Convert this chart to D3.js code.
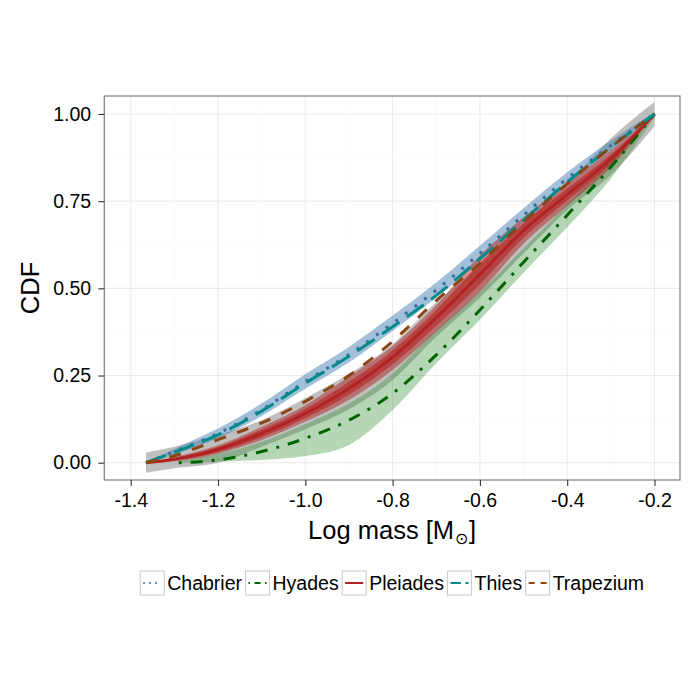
<!DOCTYPE html>
<html>
<head>
<meta charset="utf-8">
<script src="https://cdn.jsdelivr.net/npm/d3@7"></script>
<style>
    body { margin: 0; background: #ffffff; }
    text { font-family: 'Liberation Sans', Arial, sans-serif; }
</style>
</head>
<body>
<svg id="chart" width="700" height="700"></svg>
<script>
// log mass grid shared by most curves
var logM = [-1.365, -1.3, -1.2, -1.1, -1.0, -0.9, -0.8, -0.7, -0.6, -0.5, -0.4, -0.3, -0.2];
var hyadesLogM = [-1.29, -1.2, -1.1, -1.0, -0.9, -0.8, -0.7, -0.6, -0.5, -0.4, -0.3, -0.2];

var chabrierCdf = [0, 0.032, 0.084, 0.152, 0.233, 0.31, 0.4, 0.495, 0.6, 0.71, 0.815, 0.91, 1.0];
var chabrierLo = [0, 0.024, 0.07, 0.134, 0.212, 0.288, 0.378, 0.473, 0.578, 0.69, 0.797, 0.896, 0.995];
var chabrierHi = [0, 0.04, 0.098, 0.17, 0.254, 0.332, 0.422, 0.517, 0.622, 0.73, 0.833, 0.924, 1.005];

var thiesCdf = [0, 0.03, 0.08, 0.148, 0.228, 0.305, 0.39, 0.48, 0.585, 0.695, 0.805, 0.905, 1.0];
var trapeziumCdf = [0, 0.02, 0.066, 0.114, 0.176, 0.25, 0.348, 0.465, 0.572, 0.69, 0.8, 0.905, 1.0];

var pleiadesCdf = [0, 0.01, 0.038, 0.084, 0.141, 0.213, 0.303, 0.416, 0.54, 0.666, 0.769, 0.871, 1.0];
// spread of the resampled Pleiades curves (outer and dense core)
var pleiadesLo = [0, 0.004, 0.026, 0.065, 0.118, 0.18, 0.266, 0.376, 0.49, 0.628, 0.737, 0.847, 1.0];
var pleiadesHi = [0, 0.016, 0.05, 0.103, 0.165, 0.247, 0.335, 0.452, 0.594, 0.704, 0.8, 0.895, 1.0];
var pleiadesCoreLo = [0, 0.007, 0.031, 0.073, 0.128, 0.195, 0.282, 0.393, 0.512, 0.645, 0.752, 0.858, 1.0];
var pleiadesCoreHi = [0, 0.013, 0.045, 0.095, 0.155, 0.232, 0.322, 0.438, 0.572, 0.688, 0.786, 0.884, 1.0];
var pleiadesBandLo = [-0.029, -0.016, 0.0, 0.046, 0.096, 0.153, 0.237, 0.361, 0.474, 0.6, 0.725, 0.825, 0.965];
var pleiadesBandHi = [0.029, 0.046, 0.08, 0.122, 0.185, 0.255, 0.34, 0.46, 0.565, 0.685, 0.8, 0.93, 1.035];

var hyadesCdf = [0, 0.008, 0.032, 0.07, 0.122, 0.199, 0.309, 0.438, 0.575, 0.71, 0.848, 1.0];
var hyadesLo = [0, 0.003, 0.008, 0.019, 0.051, 0.151, 0.285, 0.41, 0.545, 0.675, 0.815, 0.99];
var hyadesHi = [0.005, 0.025, 0.06, 0.111, 0.17, 0.256, 0.38, 0.49, 0.615, 0.74, 0.865, 1.005];

var xTicks = [-1.4, -1.2, -1.0, -0.8, -0.6, -0.4, -0.2];
var yTicks = [0, 0.25, 0.5, 0.75, 1.0];
var legendNames = ['Chabrier', 'Hyades', 'Pleiades', 'Thies', 'Trapezium'];

var style = {
    Chabrier: { color: '#3f6c99', dash: [3, 9] },
    Hyades: { color: '#006400', dash: [3, 9, 12, 9] },
    Pleiades: { color: '#b22222', dash: null },
    Thies: { color: '#008b8b', dash: [21, 9] },
    Trapezium: { color: '#8b4513', dash: [12, 12] }
};

var panel = { left: 104.3, right: 680, top: 96, bottom: 480 };

var svg = d3.select('#chart');
var x = d3.scaleLinear().domain([-1.4605, -0.1416]).range([panel.left, panel.right]);
var y = d3.scaleLinear().domain([-0.0496, 1.0516]).range([panel.bottom, panel.top]);

function zip(xs, ys) {
    return xs.map(function (d, i) { return [d, ys[i]]; });
}
function zipBand(xs, lo, hi) {
    return xs.map(function (d, i) { return [d, lo[i], hi[i]]; });
}
function dashes(name, k) {
    return style[name].dash ? style[name].dash.map(function (v) { return v * k; }).join(',') : null;
}

var line = d3.line().x(function (d) { return x(d[0]); }).y(function (d) { return y(d[1]); }).curve(d3.curveMonotoneX);
var area = d3.area().x(function (d) { return x(d[0]); })
    .y0(function (d) { return y(d[1]); }).y1(function (d) { return y(d[2]); })
    .curve(d3.curveMonotoneX);

// grid
var grid = svg.append('g');
var minorX = xTicks.slice(0, -1).map(function (d) { return d + 0.1; });
var minorY = yTicks.slice(0, -1).map(function (d) { return d + 0.125; });
grid.selectAll('.mx').data(minorX).enter().append('line')
    .attr('x1', x).attr('x2', x).attr('y1', panel.top).attr('y2', panel.bottom)
    .attr('stroke', '#fafafa').attr('stroke-width', 1);
grid.selectAll('.my').data(minorY).enter().append('line')
    .attr('y1', y).attr('y2', y).attr('x1', panel.left).attr('x2', panel.right)
    .attr('stroke', '#fafafa').attr('stroke-width', 1);
grid.selectAll('.gx').data(xTicks).enter().append('line')
    .attr('x1', x).attr('x2', x).attr('y1', panel.top).attr('y2', panel.bottom)
    .attr('stroke', '#ebebeb').attr('stroke-width', 1.1);
grid.selectAll('.gy').data(yTicks).enter().append('line')
    .attr('y1', y).attr('y2', y).attr('x1', panel.left).attr('x2', panel.right)
    .attr('stroke', '#ebebeb').attr('stroke-width', 1.1);

// bands
var plot = svg.append('g');
plot.append('path').attr('d', area(zipBand(logM, pleiadesBandLo, pleiadesBandHi)))
    .attr('fill', '#808080').attr('fill-opacity', 0.5);
plot.append('path').attr('d', area(zipBand(hyadesLogM, hyadesLo, hyadesHi)))
    .attr('fill', '#2e8b2e').attr('fill-opacity', 0.35);
plot.append('path').attr('d', area(zipBand(logM, chabrierLo, chabrierHi)))
    .attr('fill', '#4682b4').attr('fill-opacity', 0.5);
plot.append('path').attr('d', area(zipBand(logM, pleiadesLo, pleiadesHi)))
    .attr('fill', '#b22222').attr('fill-opacity', 0.5);
plot.append('path').attr('d', area(zipBand(logM, pleiadesCoreLo, pleiadesCoreHi)))
    .attr('fill', '#b22222').attr('fill-opacity', 0.6);

// lines
var curves = {
    Chabrier: zip(logM, chabrierCdf),
    Hyades: zip(hyadesLogM, hyadesCdf),
    Pleiades: zip(logM, pleiadesCdf),
    Thies: zip(logM, thiesCdf),
    Trapezium: zip(logM, trapeziumCdf)
};
legendNames.forEach(function (name) {
    plot.append('path').attr('d', line(curves[name]))
        .attr('fill', 'none')
        .attr('stroke', style[name].color)
        .attr('stroke-width', 3)
        .attr('stroke-dasharray', dashes(name, 1));
});

// panel border
svg.append('rect')
    .attr('x', panel.left).attr('y', panel.top)
    .attr('width', panel.right - panel.left).attr('height', panel.bottom - panel.top)
    .attr('fill', 'none').attr('stroke', '#7f7f7f').attr('stroke-width', 1.2);

// axes
var xAxis = d3.axisBottom(x).tickValues(xTicks).tickSize(6).tickPadding(7.2)
    .tickFormat(function (d) { return d.toFixed(1); });
var yAxis = d3.axisLeft(y).tickValues(yTicks).tickSize(6).tickPadding(7.2)
    .tickFormat(function (d) { return d.toFixed(2); });

var gx = svg.append('g').attr('transform', 'translate(0,' + panel.bottom + ')').call(xAxis);
var gy = svg.append('g').attr('transform', 'translate(' + panel.left + ',0)').call(yAxis);
[gx, gy].forEach(function (g) {
    g.select('.domain').remove();
    g.selectAll('.tick line').attr('stroke', '#333333').attr('stroke-width', 1.1);
    g.selectAll('.tick text').attr('fill', '#000000').style('font-size', '19.5px')
        .style('font-family', "'Liberation Sans', Arial, sans-serif");
});

// axis titles
var midX = (panel.left + panel.right) / 2;
var xt = svg.append('text').attr('x', midX).attr('y', 538.5)
    .attr('text-anchor', 'middle').style('font-size', '25.5px').attr('fill', '#000');
xt.append('tspan').text('Log mass [M');
xt.append('tspan').text('\u2299').style('font-size', '16px').attr('dy', 5).attr('dx', 1);
xt.append('tspan').text(']').attr('dy', -5).attr('dx', 1);

svg.append('text')
    .attr('transform', 'translate(39,' + (panel.top + panel.bottom) / 2 + ') rotate(-90)')
    .attr('text-anchor', 'middle').style('font-size', '25.5px').attr('fill', '#000')
    .text('CDF');

// legend
var legend = svg.append('g');
var keySize = 24, legY = 571, cursor = 0;
var items = legendNames.map(function (name) {
    var g = legend.append('g');
    g.append('rect').attr('x', 0).attr('y', 0).attr('width', keySize).attr('height', keySize)
        .attr('fill', '#ffffff').attr('stroke', '#cccccc').attr('stroke-width', 1.1);
    g.append('line').attr('x1', 3).attr('x2', keySize - 3).attr('y1', keySize / 2).attr('y2', keySize / 2)
        .attr('stroke', style[name].color).attr('stroke-width', 2)
        .attr('stroke-dasharray', dashes(name, 0.5));
    var t = g.append('text').attr('x', keySize + 3).attr('y', keySize / 2).attr('dy', '0.36em')
        .style('font-size', '19.5px').attr('fill', '#000').text(name);
    var w = keySize + 3 + t.node().getComputedTextLength();
    var item = { g: g, offset: cursor };
    cursor += w + 3.5;
    return item;
});
var totalW = cursor - 3.5;
var legX = midX - totalW / 2;
items.forEach(function (it) {
    it.g.attr('transform', 'translate(' + (legX + it.offset) + ',' + legY + ')');
});
</script>
</body>
</html>
